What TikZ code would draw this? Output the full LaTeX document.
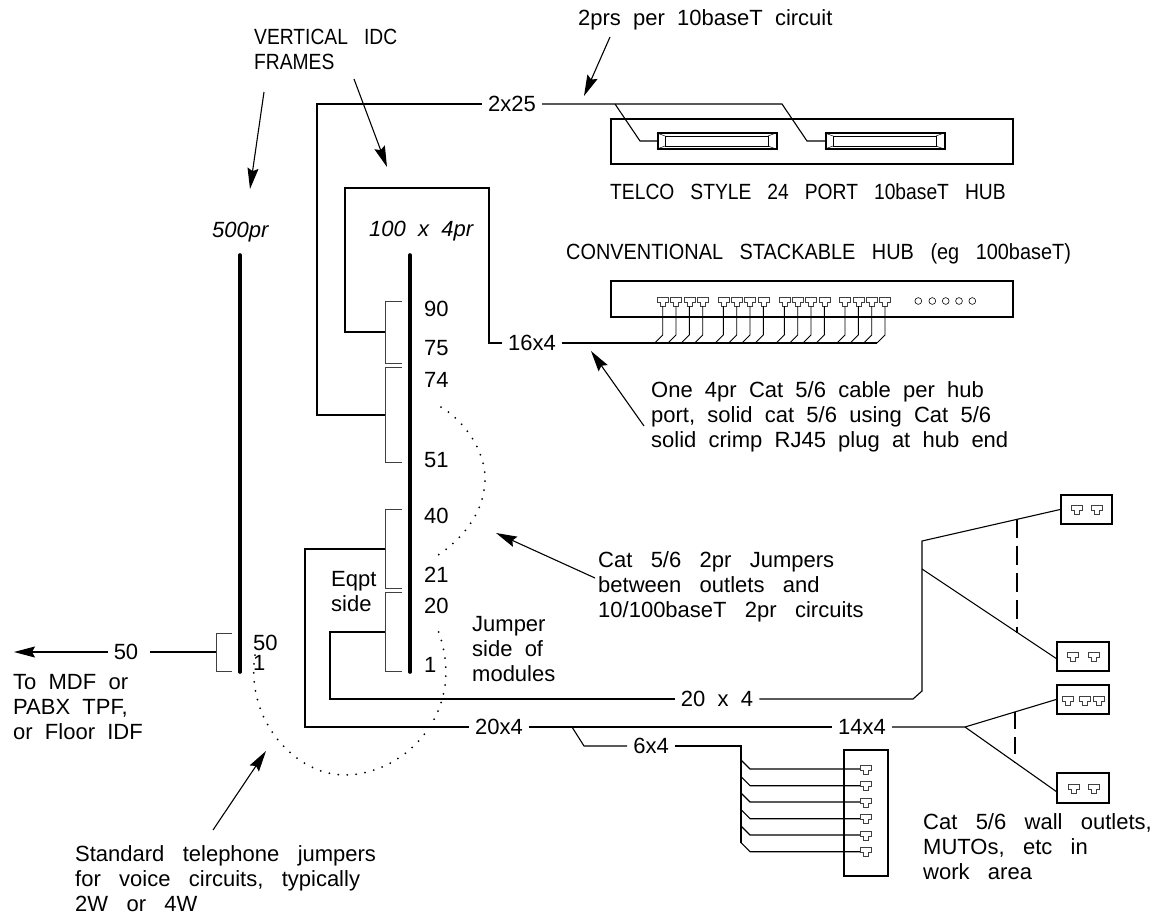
\documentclass[tikz,border=0pt]{standalone}
\usepackage{fontspec}
\setmainfont[WordSpace=3]{Liberation Sans}
\newfontfamily\capsfont[FakeStretch=0.875,WordSpace=3]{Liberation Sans}
\newfontfamily\stackfont[FakeStretch=0.904,WordSpace=3]{Liberation Sans}
\newfontfamily\tagfont[WordSpace=2]{Liberation Sans}
\usepackage{xcolor}
\usetikzlibrary{arrows.meta}
\tikzset{
  wire/.style={line width=1.1pt,black},
  bar/.style={line width=3.6pt,black,line cap=round},
  bracket/.style={line width=0.8pt,black!75},
  pointer/.style={line width=1.1pt,-{Stealth[length=21pt,width=11pt,inset=3pt]}},
  jumper/.style={line width=2pt,line cap=round,dash pattern=on 0pt off 9pt},
  lbl/.style={inner sep=0pt,font=\fontsize{22}{25}\selectfont,align=left,anchor=west},
  note/.style={lbl,font=\fontsize{22}{25}\selectfont\tagfont},
  caps/.style={lbl,font=\fontsize{22}{25}\selectfont\capsfont},
  tag/.style={inner xsep=6pt,inner ysep=0pt,font=\fontsize{22}{25}\selectfont\tagfont},
  unit/.style={draw,line width=1.8pt,inner sep=0pt},
  port/.pic={\draw[line width=0.5pt,black!75] (-5.5,-4) -- (5.5,-4) -- (5.5,1) -- (2.5,1) -- (2.5,5) -- (-2.5,5) -- (-2.5,1) -- (-5.5,1) -- cycle;}
}
\begin{document}
\begin{tikzpicture}[x=1pt,y=-1pt]
  \useasboundingbox (0,0) rectangle (1157,916);
  % risers
  \draw[bar] (240,255) -- (240,672);
  \draw[bar] (410,255) -- (410,672);
  \node[lbl,font=\fontsize{22}{25}\selectfont\itshape] (nVoice) at (212,232) {500pr};
  \node[lbl,font=\fontsize{22}{25}\selectfont\tagfont\itshape] (nData) at (369,231) {100 x 4pr};
  % module brackets
  \draw[bracket] (232,633) -| (216,671) -- (232,671);
  \draw[bracket] (402,301) -| (385,363) -- (402,363);
  \draw[bracket] (402,367) -| (385,462) -- (402,462);
  \draw[bracket] (402,509) -| (385,588) -- (402,588);
  \draw[bracket] (402,592) -| (385,671) -- (402,671);
  \foreach \y/\t in {309/90,348/75,380/74,460/51,516/40,575/21,606/20}
    \node[lbl] (mod\t) at (424,\y) {\t};
  \node[lbl] (mod1) at (424,665) {1};
  \node[lbl] (voice50) at (253,643) {50};
  \node[lbl] (voice1) at (253,663) {1};
  % hubs
  \node[unit,minimum width=402pt,minimum height=45pt] (hubT) at (812,141.5) {};
  \node[unit,minimum width=402pt,minimum height=36pt] (hubS) at (812,299) {};
  \foreach \n/\x in {connA/657,connB/825} {
    \node[unit,minimum width=119pt,minimum height=16pt,anchor=west] (\n) at (\x,141) {};
    \draw[line width=0.5pt] (\x+8,136) rectangle (\x+111,146);
    \foreach \a/\b/\c/\d in {0/133/8/136,0/149/8/146,119/133/111/136,119/149/111/146}
      \draw[line width=0.5pt] (\x+\a,\b) -- (\x+\c,\d);
  }
  \node[caps] (lblTelco) at (610,192) {TELCO STYLE 24 PORT 10baseT HUB};
  \node[lbl,font=\fontsize{22}{25}\selectfont\stackfont] (lblStack) at (566,254) {CONVENTIONAL STACKABLE HUB (eg 100baseT)};
  \foreach \x in {662.7,676,689.3,702.7,723.3,736.7,750,763.3,784.3,797.7,811,824.3,845,858.3,871.7,885} {
    \pic at (\x,301) {port};
    \draw[line width=0.9pt] (\x,306) -- (\x,335) -- ++(-8,8);
  }
  \foreach \x in {918.3,932.3,945.7,959,972.3}
    \draw[line width=0.6pt] (\x,301) circle (3.4);
  % trunks
  \node[tag] (n2x25) at (512,104) {2x25};
  \node[tag] (n16x4) at (532,343) {16x4};
  \node[tag] (n20x4) at (499,727) {20x4};
  \node[tag] (n14x4) at (862,727) {14x4};
  \node[tag] (n6x4) at (651,746) {6x4};
  \node[tag] (n20by4) at (717,699) {20 x 4};
  \node[tag] (n50) at (126,652) {50};
  \draw[wire] (n2x25.west) -| (317,415) -- (385,415);
  \draw[wire] (n2x25.east) -- (782,104) -- (807,141) -- (connB.west);
  \draw[wire] (615,104) -- (640,141) -- (connA.west);
  \draw[wire] (385,332) -| (345,188) -| (489,343) -- (n16x4.west);
  \draw[wire] (n16x4.east) -- (877,343);
  \draw[wire] (385,549) -| (305,727) -- (n20x4.west);
  \draw[wire] (n20x4.east) -- (n14x4.west);
  \draw[wire] (385,632) -| (330,699) -- (n20by4.west);
  % work area outlets
  \node[unit,minimum width=51pt,minimum height=29pt] (outA) at (1086.5,509.5) {};
  \node[unit,minimum width=52pt,minimum height=29pt] (outB) at (1083,656.5) {};
  \node[unit,minimum width=52pt,minimum height=29pt] (outC) at (1083,699.5) {};
  \node[unit,minimum width=52pt,minimum height=30pt] (outD) at (1083,788) {};
  \node[unit,minimum width=44pt,minimum height=126pt] (outE) at (866,813) {};
  \foreach \x/\y in {1077/509,1097/509,1073/656,1094/656,1068/700,1085/700,1099/700,1074/788,1094/788}
    \pic at (\x,\y) {port};
  \coordinate (tapA) at (922,541);
  \coordinate (tapB) at (922,569);
  \coordinate (tapC) at (965,727);
  \draw[wire] (n20by4.east) -- (913,699) -- (922,691) -- (tapA) -- (outA.west);
  \draw[wire] (tapB) -- (1057,659);
  \draw[wire] (n14x4.east) -- (tapC) -- (outC.west);
  \draw[wire] (tapC) -- (1057,792);
  \draw[wire,dash pattern=on 19pt off 8pt,line width=1.5pt] (1017,519) -- (1017,633);
  \draw[wire,dash pattern=on 17pt off 8pt] (1015,712) -- (1015,763);
  \draw[wire] (572,727) -- (584,746) -- (n6x4.west);
  \draw[wire] (n6x4.east) -- (741,746) -- (741,843);
  \foreach \y in {769,785.7,802,818.7,835,851.7} {
    \draw[wire] (741,\y-9) -- (750,\y) -- (860,\y);
    \pic at (866,\y) {port};
  }
  % jumpers
  \draw[jumper] (441,407) .. controls (470,425) and (490,460) .. (484,490)
    .. controls (480,520) and (455,545) .. (435,557);
  \draw[jumper] (255,655) .. controls (245,720) and (295,775) .. (345,775)
    .. controls (405,775) and (470,710) .. (437,628);
  % pointers and notes
  \node[caps] (lblIdc) at (254,49.5) {VERTICAL IDC\\FRAMES};
  \node[note] (lblPrs) at (578,20) {2prs per 10baseT circuit};
  \node[note] (lblHub) at (651,417) {One 4pr Cat 5/6 cable per hub\\port, solid cat 5/6 using Cat 5/6\\solid crimp RJ45 plug at hub end};
  \node[lbl] (lblJump) at (598,587) {Cat 5/6 2pr Jumpers\\between outlets and\\10/100baseT 2pr circuits};
  \node[lbl] (lblSide) at (331,592) {Eqpt\\side};
  \node[note] (lblMod) at (472,649) {Jumper\\side of\\modules};
  \node[note] (lblMdf) at (13,707) {To MDF or\\PABX TPF,\\or Floor IDF};
  \node[lbl] (lblStd) at (75,879) {Standard telephone jumpers\\for voice circuits, typically\\2W or 4W};
  \node[lbl] (lblWall) at (923,847) {Cat 5/6 wall outlets,\\MUTOs, etc in\\work area};
  \coordinate (tipIdc) at (387,167);
  \coordinate (tipVoice) at (250,189);
  \coordinate (tipPrs) at (584,96);
  \coordinate (tipHub) at (591,351);
  \coordinate (tipJump) at (496,533);
  \coordinate (tipStd) at (266,751);
  \coordinate (tipMdf) at (14,652);
  \draw[pointer] (354,79) -- (tipIdc);
  \draw[pointer] (264,92) -- (tipVoice);
  \draw[pointer] (610,37) -- (tipPrs);
  \draw[pointer] (644,426) -- (tipHub);
  \draw[pointer] (595,578) -- (tipJump);
  \draw[pointer] (213,830) -- (tipStd);
  \draw[pointer] (n50.west) -- (tipMdf);
  \draw[wire] ([xshift=6pt]n50.east) -- (216,652);
\end{tikzpicture}
\end{document}
